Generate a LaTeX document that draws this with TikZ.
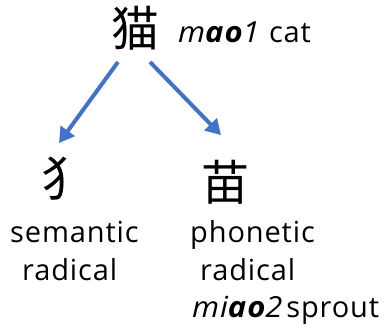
\documentclass[tikz,border=0pt]{standalone}
\usepackage{fontspec}
\setmainfont[LetterSpace=3,ItalicFeatures={FakeStretch=1.07},BoldItalicFeatures={FakeStretch=1.07}]{Open Sans}
\newfontfamily\cjk{Noto Sans CJK SC}
\usetikzlibrary{arrows.meta}
\definecolor{arrblue}{RGB}{68,114,196}
\tikzset{
  lbl/.style={anchor=base west,inner sep=0pt,font=\fontsize{29}{34}\selectfont},
  han/.style={anchor=center,inner sep=0pt,font=\cjk\fontsize{48}{52}\selectfont},
  link/.style={draw=arrblue,line width=4pt,-{Triangle[length=15pt,width=17pt]}}
}
\begin{document}
\begin{tikzpicture}[x=1pt,y=-1pt]
\useasboundingbox (0,0) rectangle (385,329);
\node[han] (mao) at (135,28) {猫};
\node[lbl] (maot) at (178,42) {\textit{m\textbf{ao}1} cat};
\node[han] (quan) at (65,179) {犭};
\node[han] (miao) at (225,182) {苗};
\node[lbl] (sem) at (10,242) {semantic};
\node[lbl] (rad1) at (22,280) {radical};
\node[lbl] (pho) at (190,242) {phonetic};
\node[lbl] (rad2) at (200,280) {radical};
\node[lbl] (miaot) at (192,317) {\textit{mi\textbf{ao}2}\hspace{3pt}sprout};
\coordinate (l0) at (118,62);
\coordinate (l1) at (59,143);
\coordinate (r0) at (150,62);
\coordinate (r1) at (221,135);
\draw[link] (l0) -- (l1);
\draw[link] (r0) -- (r1);
\end{tikzpicture}
\end{document}
